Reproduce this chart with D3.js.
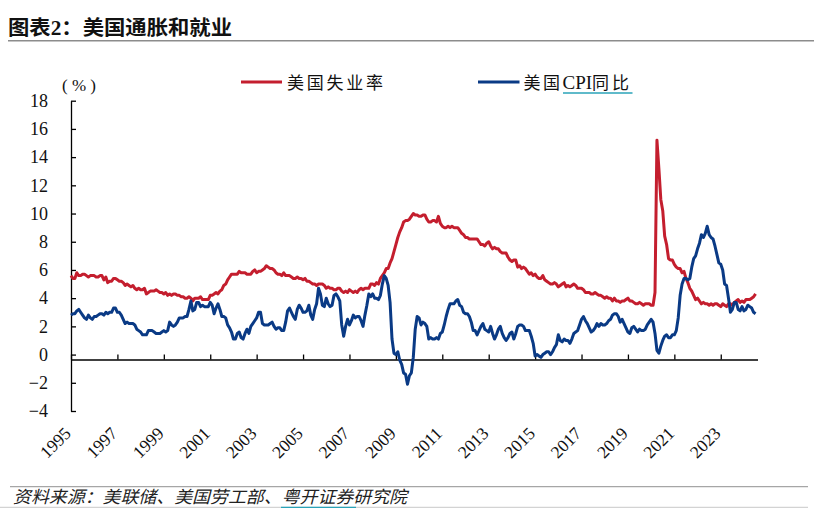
<!DOCTYPE html>
<html>
<head>
<meta charset="utf-8">
<script src="https://cdn.jsdelivr.net/npm/d3@7"></script>
<style>
  html, body { margin: 0; padding: 0; background: #fff; }
  svg { display: block; }
</style>
</head>
<body>
<svg width="814" height="508"></svg>
<script>
const svg = d3.select("svg"),
      width = +svg.attr("width"),
      height = +svg.attr("height");

// monthly data, Jan 1995 .. Jul 2024
const startYear = 1995;

// 美国失业率 (%)
const unemployment = [
  5.6, 5.4, 5.4, 5.8, 5.6, 5.6, 5.7, 5.7, 5.6, 5.5, 5.6, 5.6, // 1995
  5.6, 5.5, 5.5, 5.6, 5.6, 5.3, 5.5, 5.1, 5.2, 5.2, 5.4, 5.4, // 1996
  5.3, 5.2, 5.2, 5.1, 4.9, 5.0, 4.9, 4.8, 4.9, 4.7, 4.6, 4.7, // 1997
  4.6, 4.6, 4.7, 4.3, 4.4, 4.5, 4.5, 4.5, 4.6, 4.5, 4.4, 4.4, // 1998
  4.3, 4.4, 4.2, 4.3, 4.2, 4.3, 4.3, 4.2, 4.2, 4.1, 4.1, 4.0, // 1999
  4.0, 4.1, 4.0, 3.8, 4.0, 4.0, 4.0, 4.1, 3.9, 3.9, 3.9, 3.9, // 2000
  4.2, 4.2, 4.3, 4.4, 4.3, 4.5, 4.6, 4.9, 5.0, 5.3, 5.5, 5.7, // 2001
  5.7, 5.7, 5.7, 5.9, 5.8, 5.8, 5.8, 5.7, 5.7, 5.7, 5.9, 6.0, // 2002
  5.8, 5.9, 5.9, 6.0, 6.1, 6.3, 6.2, 6.1, 6.1, 6.0, 5.8, 5.7, // 2003
  5.7, 5.6, 5.8, 5.6, 5.6, 5.6, 5.5, 5.4, 5.4, 5.5, 5.4, 5.4, // 2004
  5.3, 5.4, 5.2, 5.2, 5.1, 5.0, 5.0, 4.9, 5.0, 5.0, 5.0, 4.9, // 2005
  4.7, 4.8, 4.7, 4.7, 4.6, 4.6, 4.7, 4.7, 4.5, 4.4, 4.5, 4.4, // 2006
  4.6, 4.5, 4.4, 4.5, 4.4, 4.6, 4.7, 4.6, 4.7, 4.7, 4.7, 5.0, // 2007
  5.0, 4.9, 5.1, 5.0, 5.4, 5.6, 5.8, 6.1, 6.1, 6.5, 6.8, 7.3, // 2008
  7.8, 8.3, 8.7, 9.0, 9.4, 9.5, 9.5, 9.6, 9.8, 10.0, 9.9, 9.9, // 2009
  9.8, 9.8, 9.9, 9.9, 9.6, 9.4, 9.4, 9.5, 9.5, 9.4, 9.8, 9.3, // 2010
  9.1, 9.0, 9.0, 9.1, 9.0, 9.1, 9.0, 9.0, 9.0, 8.8, 8.6, 8.5, // 2011
  8.3, 8.3, 8.2, 8.2, 8.2, 8.2, 8.2, 8.0, 7.8, 7.8, 7.7, 7.9, // 2012
  8.0, 7.7, 7.5, 7.6, 7.5, 7.5, 7.3, 7.2, 7.2, 7.2, 6.9, 6.7, // 2013
  6.6, 6.7, 6.7, 6.2, 6.3, 6.1, 6.2, 6.1, 5.9, 5.7, 5.8, 5.6, // 2014
  5.7, 5.5, 5.4, 5.4, 5.6, 5.3, 5.2, 5.1, 5.0, 5.0, 5.1, 5.0, // 2015
  4.8, 4.9, 5.0, 5.1, 4.8, 4.9, 4.8, 4.9, 5.0, 4.9, 4.7, 4.7, // 2016
  4.7, 4.6, 4.4, 4.4, 4.4, 4.3, 4.3, 4.4, 4.3, 4.2, 4.2, 4.1, // 2017
  4.0, 4.1, 4.0, 4.0, 3.8, 4.0, 3.8, 3.8, 3.7, 3.8, 3.8, 3.9, // 2018
  4.0, 3.8, 3.8, 3.7, 3.6, 3.6, 3.7, 3.6, 3.5, 3.6, 3.6, 3.6, // 2019
  3.5, 3.5, 4.4, 15.2, 13.2, 11.0, 10.2, 8.4, 7.8, 6.8, 6.7, 6.7, // 2020
  6.4, 6.2, 6.1, 6.1, 5.8, 5.9, 5.4, 5.1, 4.7, 4.5, 4.2, 3.9, // 2021
  4.0, 3.8, 3.6, 3.7, 3.6, 3.6, 3.5, 3.6, 3.5, 3.6, 3.6, 3.5, // 2022
  3.4, 3.6, 3.5, 3.4, 3.6, 3.6, 3.5, 3.7, 3.8, 3.9, 3.7, 3.8, // 2023
  3.7, 3.9, 3.9, 3.9, 4.0, 4.1, 4.3                           // 2024
];

// 美国CPI同比 (%)
const cpiYoY = [
  2.8, 2.9, 2.9, 3.1, 3.2, 3.0, 2.8, 2.6, 2.5, 2.8, 2.6, 2.5, // 1995
  2.7, 2.7, 2.8, 2.9, 2.9, 2.8, 3.0, 2.9, 3.0, 3.0, 3.3, 3.3, // 1996
  3.0, 3.0, 2.8, 2.5, 2.2, 2.3, 2.2, 2.2, 2.2, 2.1, 1.8, 1.7, // 1997
  1.6, 1.4, 1.4, 1.4, 1.7, 1.7, 1.7, 1.6, 1.5, 1.5, 1.5, 1.6, // 1998
  1.7, 1.6, 1.7, 2.3, 2.1, 2.0, 2.1, 2.3, 2.6, 2.6, 2.6, 2.7, // 1999
  2.7, 3.2, 3.8, 3.1, 3.2, 3.7, 3.7, 3.4, 3.5, 3.4, 3.4, 3.4, // 2000
  3.7, 3.5, 2.9, 3.3, 3.6, 3.2, 2.7, 2.7, 2.6, 2.1, 1.9, 1.6, // 2001
  1.1, 1.1, 1.5, 1.6, 1.2, 1.1, 1.5, 1.8, 1.5, 2.0, 2.2, 2.4, // 2002
  2.6, 3.0, 3.0, 2.2, 2.1, 2.1, 2.1, 2.2, 2.3, 2.0, 1.8, 1.9, // 2003
  1.9, 1.7, 1.7, 2.3, 3.1, 3.3, 3.0, 2.7, 2.5, 3.2, 3.5, 3.3, // 2004
  3.0, 3.0, 3.1, 3.5, 2.8, 2.5, 3.2, 3.6, 4.7, 4.3, 3.5, 3.4, // 2005
  4.0, 3.6, 3.4, 3.5, 4.2, 4.3, 4.1, 3.8, 2.1, 1.3, 2.0, 2.5, // 2006
  2.1, 2.4, 2.8, 2.6, 2.7, 2.7, 2.4, 2.0, 2.8, 3.5, 4.3, 4.1, // 2007
  4.3, 4.0, 4.0, 3.9, 4.2, 5.0, 5.6, 5.4, 4.9, 3.7, 1.1, 0.1, // 2008
  0.0, 0.2, -0.4, -0.7, -1.3, -1.4, -2.1, -1.5, -1.3, -0.2, 1.8, 2.7, // 2009
  2.6, 2.1, 2.3, 2.2, 2.0, 1.1, 1.2, 1.1, 1.1, 1.2, 1.1, 1.5, // 2010
  1.6, 2.1, 2.7, 3.2, 3.6, 3.6, 3.6, 3.8, 3.9, 3.5, 3.4, 3.0, // 2011
  2.9, 2.9, 2.7, 2.3, 1.7, 1.7, 1.4, 1.7, 2.0, 2.2, 1.8, 1.7, // 2012
  1.6, 2.0, 1.5, 1.1, 1.4, 1.8, 2.0, 1.5, 1.2, 1.0, 1.2, 1.5, // 2013
  1.6, 1.1, 1.5, 2.0, 2.1, 2.1, 2.0, 1.7, 1.7, 1.7, 1.3, 0.8, // 2014
  -0.1, 0.0, -0.1, -0.2, 0.0, 0.1, 0.2, 0.2, 0.0, 0.2, 0.5, 0.7, // 2015
  1.4, 1.0, 0.9, 1.1, 1.0, 1.0, 0.8, 1.1, 1.5, 1.6, 1.7, 2.1, // 2016
  2.5, 2.7, 2.4, 2.2, 1.9, 1.6, 1.7, 1.9, 2.2, 2.0, 2.2, 2.1, // 2017
  2.1, 2.2, 2.4, 2.5, 2.8, 2.9, 2.9, 2.7, 2.3, 2.5, 2.2, 1.9, // 2018
  1.6, 1.5, 1.9, 2.0, 1.8, 1.6, 1.8, 1.7, 1.7, 1.8, 2.1, 2.3, // 2019
  2.5, 2.3, 1.5, 0.3, 0.1, 0.6, 1.0, 1.3, 1.4, 1.2, 1.2, 1.4, // 2020
  1.4, 1.7, 2.6, 4.2, 5.0, 5.4, 5.4, 5.3, 5.4, 6.2, 6.8, 7.0, // 2021
  7.5, 7.9, 8.5, 8.3, 8.6, 9.1, 8.5, 8.3, 8.2, 7.7, 7.1, 6.5, // 2022
  6.4, 6.0, 5.0, 4.9, 4.0, 3.0, 3.2, 3.7, 3.7, 3.2, 3.1, 3.4, // 2023
  3.1, 3.2, 3.5, 3.4, 3.3, 3.0, 2.9                           // 2024
];

const yTicks = [-4, -2, 0, 2, 4, 6, 8, 10, 12, 14, 16, 18];
const xTickYears = [1995, 1997, 1999, 2001, 2003, 2005, 2007, 2009,
                    2011, 2013, 2015, 2017, 2019, 2021, 2023];

const colors = { red: "#C41E2E", blue: "#0A3A85", grid: "#a6a6a6", teal: "#2AA3B8" };
const serif = "'Liberation Serif', 'Times New Roman', 'Noto Sans CJK SC', serif";
const cjk = "'Liberation Serif', 'Noto Sans CJK SC', sans-serif";

// plot area
const plot = { left: 71, right: 757.5, top: 100.7, bottom: 411 };
const xCross = -0.35; // where the category axis crosses the value axis

const x = d3.scaleLinear()
    .domain([0, unemployment.length])
    .range([plot.left, plot.right]);

const y = d3.scaleLinear()
    .domain([-4, 18])
    .range([plot.bottom, plot.top]);

// title + rule
svg.append("text")
    .attr("x", 8)
    .attr("y", 35)
    .attr("font-family", cjk)
    .attr("font-weight", "bold")
    .attr("font-size", 20)
    .attr("textLength", 224)
    .attr("lengthAdjust", "spacingAndGlyphs")
    .attr("fill", "#111")
    .text("图表2：美国通胀和就业");

svg.append("line")
    .attr("x1", 8).attr("x2", width)
    .attr("y1", 40.7).attr("y2", 40.7)
    .attr("stroke", "#8c8c8c")
    .attr("stroke-width", 1.5);

// "(%)"
svg.append("text")
    .attr("x", 62)
    .attr("y", 91)
    .attr("font-family", serif)
    .attr("font-size", 17)
    .attr("textLength", 34)
    .attr("fill", "#111")
    .text("(%)");

// y axis, ticks pointing inward
const yAxis = svg.append("g")
    .attr("transform", `translate(${plot.left},0)`)
    .call(d3.axisLeft(y).tickValues(yTicks).tickSize(-5).tickSizeOuter(0).tickPadding(23));

yAxis.selectAll("text")
    .attr("font-family", serif)
    .attr("font-size", 18)
    .attr("fill", "#111");

// x axis
const xAxis = svg.append("g")
    .attr("transform", `translate(0,${y(xCross)})`)
    .call(d3.axisBottom(x)
        .tickValues(xTickYears.map(yr => (yr - startYear) * 12))
        .tickSize(-5)
        .tickSizeOuter(0)
        .tickFormat(""));

xAxis.selectAll(".tick").append("text")
    .attr("transform", "translate(0.5,75) rotate(-45)")
    .attr("text-anchor", "end")
    .attr("font-family", serif)
    .attr("font-size", 17.5)
    .attr("fill", "#111")
    .text((d, i) => xTickYears[i]);

svg.selectAll(".domain, .tick line")
    .attr("stroke", "#000")
    .attr("stroke-width", 1.3);

// series lines
const line = d3.line()
    .x((d, i) => x(i))
    .y(d => y(d));

svg.append("path")
    .datum(unemployment)
    .attr("fill", "none")
    .attr("stroke", colors.red)
    .attr("stroke-width", 3)
    .attr("stroke-linejoin", "round")
    .attr("d", line);

svg.append("path")
    .datum(cpiYoY)
    .attr("fill", "none")
    .attr("stroke", colors.blue)
    .attr("stroke-width", 3)
    .attr("stroke-linejoin", "round")
    .attr("d", line);

// legend
svg.append("line")
    .attr("x1", 241).attr("x2", 282)
    .attr("y1", 82).attr("y2", 82)
    .attr("stroke", colors.red)
    .attr("stroke-width", 3);

svg.append("text")
    .attr("x", 287)
    .attr("y", 88.5)
    .attr("font-family", cjk)
    .attr("font-size", 17)
    .attr("textLength", 96)
    .attr("lengthAdjust", "spacing")
    .attr("fill", "#111")
    .text("美国失业率");

svg.append("line")
    .attr("x1", 478).attr("x2", 519.5)
    .attr("y1", 82).attr("y2", 82)
    .attr("stroke", colors.blue)
    .attr("stroke-width", 3);

const cpiLabel = svg.append("text")
    .attr("x", 523.5)
    .attr("y", 88.5)
    .attr("font-family", cjk)
    .attr("font-size", 17)
    .attr("fill", "#111");

cpiLabel.append("tspan").attr("letter-spacing", 2.5).text("美国");
cpiLabel.append("tspan").attr("font-size", 19).text("CPI");
cpiLabel.append("tspan").attr("letter-spacing", 3).text("同比");

// odd teal underline under "CPI同比"
svg.append("line")
    .attr("x1", 563).attr("x2", 632.5)
    .attr("y1", 93).attr("y2", 93)
    .attr("stroke", colors.teal)
    .attr("stroke-width", 1.5);

// source footer
svg.append("line")
    .attr("x1", 10).attr("x2", 808)
    .attr("y1", 486.7).attr("y2", 486.7)
    .attr("stroke", colors.grid)
    .attr("stroke-width", 1.3);

svg.append("text")
    .attr("x", 13)
    .attr("y", 503)
    .attr("font-family", cjk)
    .attr("font-style", "italic")
    .attr("font-size", 17)
    .attr("textLength", 394)
    .attr("lengthAdjust", "spacingAndGlyphs")
    .attr("fill", "#222")
    .text("资料来源：美联储、美国劳工部、粤开证券研究院");

svg.append("line")
    .attr("x1", 0).attr("x2", 808)
    .attr("y1", 507.3).attr("y2", 507.3)
    .attr("stroke", "#c8c8c8")
    .attr("stroke-width", 1);

svg.append("line")
    .attr("x1", 281).attr("x2", 356)
    .attr("y1", 507.3).attr("y2", 507.3)
    .attr("stroke", colors.teal)
    .attr("stroke-width", 1.3);
</script>
</body>
</html>
